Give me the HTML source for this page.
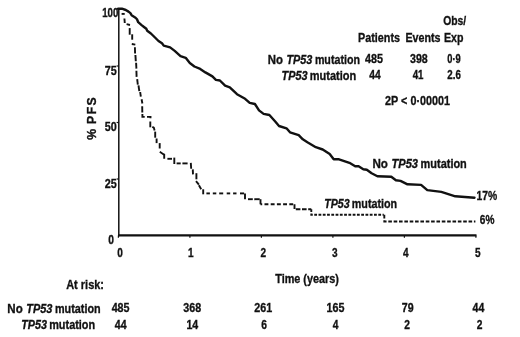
<!DOCTYPE html>
<html><head><meta charset="utf-8"><title>PFS by TP53 mutation</title>
<style>
html,body{margin:0;padding:0;background:#fff;}
body{width:520px;height:337px;overflow:hidden;}
svg{display:block;}
text{font-family:"Liberation Sans",Arial,sans-serif;font-weight:bold;fill:#111;stroke:#111;stroke-width:0.35px;}
</style></head><body>
<svg width="520" height="337" viewBox="0 0 520 337">
<rect width="520" height="337" fill="#fff"/>
<g stroke="#111" fill="none">
<line x1="118.8" y1="9" x2="118.8" y2="236.3" stroke-width="1.5"/>
<line x1="118" y1="235.35" x2="476.5" y2="235.35" stroke-width="2.1"/>
<g stroke-width="1.2"><line x1="118.4" y1="235.4" x2="118.4" y2="237.7"/><line x1="189.9" y1="235.4" x2="189.9" y2="237.7"/><line x1="261.4" y1="235.4" x2="261.4" y2="237.7"/><line x1="332.9" y1="235.4" x2="332.9" y2="237.7"/><line x1="404.4" y1="235.4" x2="404.4" y2="237.7"/><line x1="475.9" y1="235.4" x2="475.9" y2="237.7"/><line x1="116.6" y1="66" x2="118.8" y2="66"/><line x1="116.6" y1="122.5" x2="118.8" y2="122.5"/><line x1="116.6" y1="179" x2="118.8" y2="179"/></g>
<polyline points="118.1,8.7 121.9,8.7 125.8,10.0 128.5,11.6 130.4,13.1 131.6,15.2 135.5,17.7 137.0,19.3 138.2,22.2 141.6,25.1 144.0,27.0 146.3,28.8 147.2,30.8 150.9,33.5 155.0,37.5 158.5,41.0 162.0,43.3 163.7,45.6 170.1,47.4 174.7,50.9 180.5,56.1 185.7,57.8 189.8,63.0 194.4,66.5 200.2,68.9 205.4,72.4 212.4,76.4 215.9,79.9 219.9,80.5 225.1,85.7 229.8,87.4 237.0,94.2 245.1,98.8 249.7,102.9 254.9,104.0 259.0,110.4 263.6,113.9 269.4,115.0 275.0,121.3 279.0,126.0 286.5,128.3 290.0,132.3 298.7,135.2 302.8,139.3 307.4,142.2 315.8,147.2 322.7,149.5 329.7,154.1 333.7,159.3 339.0,159.3 349.4,162.8 355.2,166.3 358.6,166.3 363.3,169.2 366.8,169.7 371.6,173.3 377.4,176.2 391.3,176.8 395.9,180.3 400.5,180.9 407.5,184.3 421.1,184.9 427.3,190.1 441.3,191.9 455.3,196.3 474.5,197.7" stroke-width="2.4" stroke-linejoin="round" stroke-linecap="round"/>
<g stroke-width="1.9"><polyline points="121.6,13.9 124.7,13.9"/><polyline points="124.4,18.5 124.8,23.0"/><polyline points="126.6,24.2 130.0,25.0"/><polyline points="129.7,28.1 129.7,34.7"/><polyline points="132.2,34.3 132.2,39.7"/><polyline points="131.8,44.0 135.3,44.6"/><polyline points="134.9,47.3 135.1,53.5"/><polyline points="135.4,55.0 135.8,61.2"/><polyline points="136.1,62.8 136.4,68.6"/><polyline points="136.4,70.7 136.6,76.9"/><polyline points="137.2,79.2 137.8,84.6"/><polyline points="138.5,85.4 139.3,91.2"/><polyline points="140.2,92.0 140.8,96.6"/><polyline points="141.6,99.3 142.4,103.5"/><polyline points="142.2,106.2 142.3,112.4"/><polyline points="142.4,114.0 142.4,116.9 144.7,116.9"/><polyline points="147.0,116.9 150.5,116.9 150.5,118.2"/><polyline points="150.3,121.5 150.3,127.3"/><polyline points="152.3,126.8 153.8,127.6 154.6,130.4"/><polyline points="155.2,131.6 155.2,137.7"/><polyline points="156.6,138.5 156.6,143.1"/><polyline points="159.7,143.1 159.7,148.5"/><polyline points="159.8,151.8 163.3,154.2 164.2,154.6 164.2,158.8"/><polyline points="167.4,158.8 172.0,158.8"/><polyline points="174.3,157.6 174.3,164.0"/><polyline points="176.6,163.4 180.7,163.4"/><polyline points="182.4,163.4 187.6,163.4"/><polyline points="190.8,162.9 191.2,168.8"/><polyline points="192.8,169.4 193.0,174.4"/><polyline points="196.4,173.2 196.4,179.3"/><polyline points="196.0,181.2 198.9,184.7"/><polyline points="198.9,185.3 201.2,189.3"/><polyline points="203.2,189.3 203.2,194.3"/><polyline points="206.4,193.4 209.9,193.4"/><polyline points="212.8,193.4 216.3,193.4"/><polyline points="219.2,193.4 223.2,193.4"/><polyline points="226.7,193.4 230.2,193.4"/><polyline points="233.1,193.4 236.5,193.4"/><polyline points="240.0,193.4 244.1,193.4"/><polyline points="245.0,193.4 245.0,199.2"/><polyline points="248.0,199.2 252.8,199.2"/><polyline points="254.3,199.2 259.7,199.2"/><polyline points="260.5,199.2 260.5,204.3"/><polyline points="260.5,204.3 294.5,204.3" stroke-dasharray="3.9 2.3" stroke-dashoffset="2.2"/><polyline points="294.5,204.3 294.5,209.2 311.3,209.2" stroke-dasharray="4.6 1.6" stroke-dashoffset="0"/><polyline points="311.3,209.2 311.3,214.8 383.8,214.8" stroke-dasharray="2.8 1.47" stroke-dashoffset="0"/><polyline points="384.3,214.8 384.3,221.5 475.4,221.5" stroke-dasharray="3.6 1.75" stroke-dashoffset="0"/></g>
</g>
<text x="443.2" y="25.3" font-size="13.5" textLength="23.0" lengthAdjust="spacingAndGlyphs" >Obs/</text>
<text x="358.1" y="41.5" font-size="13.5" textLength="41.9" lengthAdjust="spacingAndGlyphs" >Patients</text>
<text x="405.4" y="41.5" font-size="13.5" textLength="35.1" lengthAdjust="spacingAndGlyphs" >Events</text>
<text x="444" y="41.5" font-size="13.5" textLength="19.5" lengthAdjust="spacingAndGlyphs" >Exp</text>
<text x="267.8" y="64" font-size="13.5" textLength="15.2" lengthAdjust="spacingAndGlyphs" >No</text><text x="286.48" y="64" font-size="13.5" textLength="25.9" lengthAdjust="spacingAndGlyphs" font-style="italic">TP53</text><text x="314.87710000000004" y="64" font-size="13.5" textLength="45.1" lengthAdjust="spacingAndGlyphs" >mutation</text>
<text x="365" y="62.7" font-size="13.5" textLength="18.0" lengthAdjust="spacingAndGlyphs" >485</text>
<text x="410" y="62.7" font-size="13.5" textLength="17.8" lengthAdjust="spacingAndGlyphs" >398</text>
<text x="447.3" y="62.7" font-size="13.5" textLength="13.5" lengthAdjust="spacingAndGlyphs" >0·9</text>
<text x="281.6" y="79.7" font-size="13.5" textLength="26.0" lengthAdjust="spacingAndGlyphs" font-style="italic">TP53</text><text x="309.7242" y="79.7" font-size="13.5" textLength="46.5" lengthAdjust="spacingAndGlyphs" >mutation</text>
<text x="369.3" y="78.7" font-size="13.5" textLength="11.4" lengthAdjust="spacingAndGlyphs" >44</text>
<text x="412.7" y="78.7" font-size="13.5" textLength="10.8" lengthAdjust="spacingAndGlyphs" >41</text>
<text x="447.3" y="78.7" font-size="13.5" textLength="13.5" lengthAdjust="spacingAndGlyphs" >2.6</text>
<text x="385.1" y="104.9" font-size="13.5" textLength="64.9" lengthAdjust="spacingAndGlyphs" >2P &lt; 0·00001</text>
<text x="372.4" y="168.2" font-size="13.5" textLength="15.5" lengthAdjust="spacingAndGlyphs" >No</text><text x="391.52" y="168.2" font-size="13.5" textLength="26.5" lengthAdjust="spacingAndGlyphs" font-style="italic">TP53</text><text x="420.5969" y="168.2" font-size="13.5" textLength="46.2" lengthAdjust="spacingAndGlyphs" >mutation</text>
<text x="324.3" y="208" font-size="13.5" textLength="25.4" lengthAdjust="spacingAndGlyphs" font-style="italic">TP53</text><text x="351.7833" y="208" font-size="13.5" textLength="45.4" lengthAdjust="spacingAndGlyphs" >mutation</text>
<text x="476.6" y="199.6" font-size="13.5" textLength="20.7" lengthAdjust="spacingAndGlyphs" >17%</text>
<text x="479.8" y="224.4" font-size="13.5" textLength="14.6" lengthAdjust="spacingAndGlyphs" >6%</text>
<text x="102.2" y="17.3" font-size="13.5" textLength="16.1" lengthAdjust="spacingAndGlyphs" >100</text>
<text x="104.8" y="74.9" font-size="13.5" textLength="12.0" lengthAdjust="spacingAndGlyphs" >75</text>
<text x="104.8" y="131.1" font-size="13.5" textLength="12.0" lengthAdjust="spacingAndGlyphs" >50</text>
<text x="104.8" y="187.7" font-size="13.5" textLength="12.0" lengthAdjust="spacingAndGlyphs" >25</text>
<text x="108.3" y="243.6" font-size="13.5" textLength="5.7" lengthAdjust="spacingAndGlyphs" >0</text>
<text x="117.2" y="257.4" font-size="13.5" textLength="5.6" lengthAdjust="spacingAndGlyphs" >0</text>
<text x="188.0" y="257.4" font-size="13.5" textLength="5.6" lengthAdjust="spacingAndGlyphs" >1</text>
<text x="260.4" y="257.4" font-size="13.5" textLength="5.6" lengthAdjust="spacingAndGlyphs" >2</text>
<text x="332.09999999999997" y="257.4" font-size="13.5" textLength="5.6" lengthAdjust="spacingAndGlyphs" >3</text>
<text x="402.9" y="257.4" font-size="13.5" textLength="5.6" lengthAdjust="spacingAndGlyphs" >4</text>
<text x="475.0" y="257.4" font-size="13.5" textLength="5.6" lengthAdjust="spacingAndGlyphs" >5</text>
<text x="275.2" y="282.7" font-size="13.5" textLength="63.8" lengthAdjust="spacingAndGlyphs" >Time (years)</text>
<text x="66.2" y="288.6" font-size="13.5" textLength="37.8" lengthAdjust="spacingAndGlyphs" >At risk:</text>
<text x="7.3" y="313" font-size="13.5" textLength="15.4" lengthAdjust="spacingAndGlyphs" >No</text><text x="26.200000000000003" y="313" font-size="13.5" textLength="26.2" lengthAdjust="spacingAndGlyphs" font-style="italic">TP53</text><text x="54.937000000000005" y="313" font-size="13.5" textLength="45.7" lengthAdjust="spacingAndGlyphs" >mutation</text>
<text x="21.3" y="328.8" font-size="13.5" textLength="25.7" lengthAdjust="spacingAndGlyphs" font-style="italic">TP53</text><text x="49.16030000000001" y="328.8" font-size="13.5" textLength="46.0" lengthAdjust="spacingAndGlyphs" >mutation</text>
<text x="111.64999999999999" y="311.5" font-size="13.5" textLength="17.9" lengthAdjust="spacingAndGlyphs" >485</text>
<text x="183.35000000000002" y="311.5" font-size="13.5" textLength="17.9" lengthAdjust="spacingAndGlyphs" >368</text>
<text x="254.25" y="311.5" font-size="13.5" textLength="17.9" lengthAdjust="spacingAndGlyphs" >261</text>
<text x="326.55" y="311.5" font-size="13.5" textLength="17.9" lengthAdjust="spacingAndGlyphs" >165</text>
<text x="401.8" y="311.5" font-size="13.5" textLength="11.8" lengthAdjust="spacingAndGlyphs" >79</text>
<text x="472.5" y="311.5" font-size="13.5" textLength="11.8" lengthAdjust="spacingAndGlyphs" >44</text>
<text x="114.8" y="328.6" font-size="13.5" textLength="11.8" lengthAdjust="spacingAndGlyphs" >44</text>
<text x="186.4" y="328.6" font-size="13.5" textLength="11.8" lengthAdjust="spacingAndGlyphs" >14</text>
<text x="261.15" y="328.6" font-size="13.5" textLength="5.7" lengthAdjust="spacingAndGlyphs" >6</text>
<text x="332.84999999999997" y="328.6" font-size="13.5" textLength="5.7" lengthAdjust="spacingAndGlyphs" >4</text>
<text x="404.15" y="328.6" font-size="13.5" textLength="5.7" lengthAdjust="spacingAndGlyphs" >2</text>
<text x="476.65" y="328.6" font-size="13.5" textLength="5.7" lengthAdjust="spacingAndGlyphs" >2</text>
<text transform="translate(96.1,139.7) rotate(-90)" font-size="12.2" letter-spacing="1.4" word-spacing="-1.2">% PFS</text>
</svg>
</body></html>
